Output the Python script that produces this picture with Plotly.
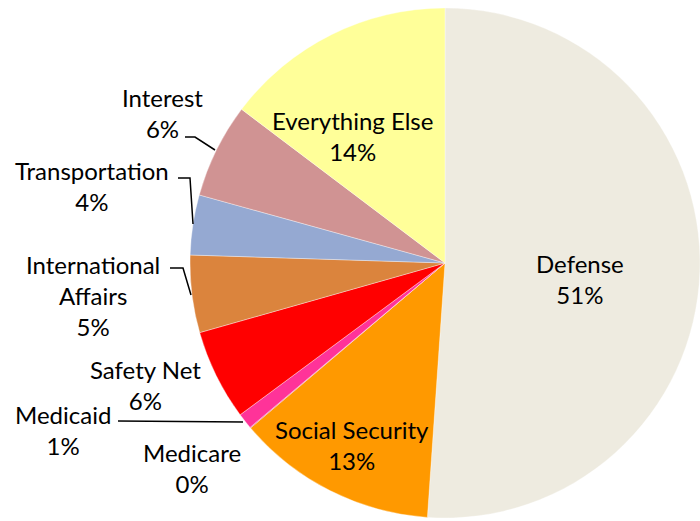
import plotly.graph_objects as go

# Data (clockwise from 12 o'clock)
categories = ["Defense", "Social Security", "Medicare", "Medicaid", "Safety Net",
              "International Affairs", "Transportation", "Interest", "Everything Else"]
values = [51.1, 12.7, 0.05, 1.0, 5.75, 4.9, 3.8, 6.0, 14.7]
pct_labels = ["51%", "13%", "0%", "1%", "6%", "5%", "4%", "6%", "14%"]
label_names = ["Defense", "Social Security", "Medicare", "Medicaid", "Safety Net",
               "International<br>Affairs", "Transportation", "Interest", "Everything Else"]
colors = ["#EEEBE0", "#FF9900", "#E0407F", "#FF3399", "#FF0000",
          "#DB843D", "#95A9D2", "#D09393", "#FFFF99"]

W, H = 700, 521
# label block centres (pixels from top-left)
label_pos = {
    "Defense": (580, 279),
    "Social Security": (352, 445),
    "Medicare": (192, 468),
    "Medicaid": (63, 430),
    "Safety Net": (145, 385),
    "International Affairs": (93, 295),
    "Transportation": (92, 186),
    "Interest": (162, 113),
    "Everything Else": (352, 136),
}
leaders = [
    [(185, 137), (195, 137), (215, 150)],
    [(178, 178), (190, 178), (193, 224)],
    [(170, 268), (183, 268), (191, 295)],
    [(118, 421), (243, 422)],
]

fig = go.Figure(go.Pie(
    labels=categories,
    values=values,
    sort=False,
    direction="clockwise",
    rotation=0,
    textinfo="none",
    hoverinfo="label+percent",
    marker=dict(colors=colors, line=dict(color="rgba(255,255,255,0.6)", width=0.6)),
    domain=dict(x=[190 / W, 700 / W], y=[3 / H, 513 / H]),
    showlegend=False,
))

font = dict(family="Lato, Carlito, Calibri, sans-serif", size=24, color="#000000")
annotations = []
for name, lab, pct in zip(categories, label_names, pct_labels):
    px, py = label_pos[name]
    annotations.append(dict(
        x=px / W, y=1 - py / H, xref="paper", yref="paper",
        text=f"{lab}<br>{pct}", showarrow=False, align="center",
        xanchor="center", yanchor="middle", font=font,
    ))

shapes = []
for pts in leaders:
    path = "M " + " L ".join(f"{x / W},{1 - y / H}" for x, y in pts)
    shapes.append(dict(type="path", xref="paper", yref="paper", path=path,
                       line=dict(color="black", width=1.5)))

fig.update_layout(
    width=W, height=H,
    margin=dict(l=0, r=0, t=0, b=0),
    paper_bgcolor="white",
    plot_bgcolor="white",
    annotations=annotations,
    shapes=shapes,
)

fig.write_html("out.html")
